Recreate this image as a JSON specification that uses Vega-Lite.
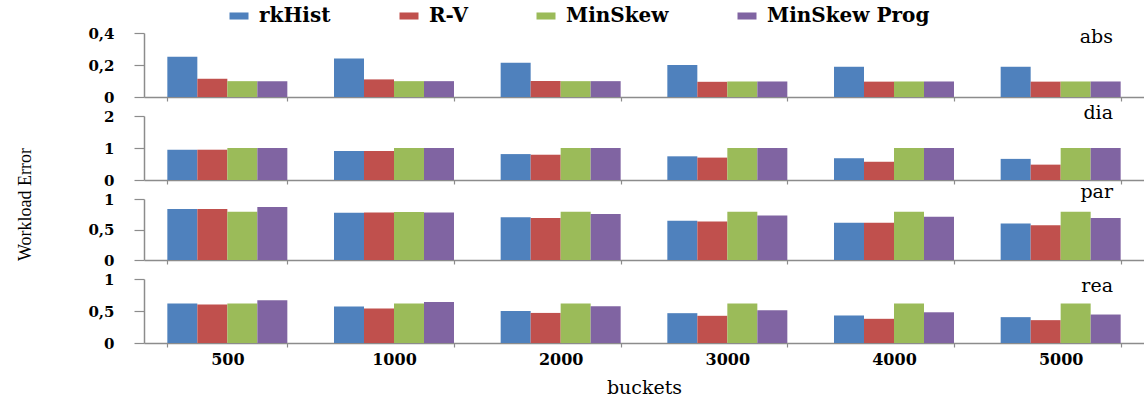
{
  "$schema": "https://vega.github.io/schema/vega-lite/v6.json",
  "padding": {"left": 16, "top": 6, "right": 0, "bottom": 0},
  "datasets": {
    "d": [
      {"metric": "abs", "buckets": "500", "method": "rkHist", "value": 0.251},
      {"metric": "abs", "buckets": "500", "method": "R-V", "value": 0.114},
      {"metric": "abs", "buckets": "500", "method": "MinSkew", "value": 0.099},
      {"metric": "abs", "buckets": "500", "method": "MinSkew Prog", "value": 0.099},
      {"metric": "abs", "buckets": "1000", "method": "rkHist", "value": 0.240},
      {"metric": "abs", "buckets": "1000", "method": "R-V", "value": 0.110},
      {"metric": "abs", "buckets": "1000", "method": "MinSkew", "value": 0.099},
      {"metric": "abs", "buckets": "1000", "method": "MinSkew Prog", "value": 0.099},
      {"metric": "abs", "buckets": "2000", "method": "rkHist", "value": 0.214},
      {"metric": "abs", "buckets": "2000", "method": "R-V", "value": 0.100},
      {"metric": "abs", "buckets": "2000", "method": "MinSkew", "value": 0.099},
      {"metric": "abs", "buckets": "2000", "method": "MinSkew Prog", "value": 0.099},
      {"metric": "abs", "buckets": "3000", "method": "rkHist", "value": 0.200},
      {"metric": "abs", "buckets": "3000", "method": "R-V", "value": 0.095},
      {"metric": "abs", "buckets": "3000", "method": "MinSkew", "value": 0.097},
      {"metric": "abs", "buckets": "3000", "method": "MinSkew Prog", "value": 0.097},
      {"metric": "abs", "buckets": "4000", "method": "rkHist", "value": 0.189},
      {"metric": "abs", "buckets": "4000", "method": "R-V", "value": 0.096},
      {"metric": "abs", "buckets": "4000", "method": "MinSkew", "value": 0.097},
      {"metric": "abs", "buckets": "4000", "method": "MinSkew Prog", "value": 0.097},
      {"metric": "abs", "buckets": "5000", "method": "rkHist", "value": 0.189},
      {"metric": "abs", "buckets": "5000", "method": "R-V", "value": 0.096},
      {"metric": "abs", "buckets": "5000", "method": "MinSkew", "value": 0.097},
      {"metric": "abs", "buckets": "5000", "method": "MinSkew Prog", "value": 0.097},
      {"metric": "dia", "buckets": "500", "method": "rkHist", "value": 0.947},
      {"metric": "dia", "buckets": "500", "method": "R-V", "value": 0.947},
      {"metric": "dia", "buckets": "500", "method": "MinSkew", "value": 1.0},
      {"metric": "dia", "buckets": "500", "method": "MinSkew Prog", "value": 1.0},
      {"metric": "dia", "buckets": "1000", "method": "rkHist", "value": 0.906},
      {"metric": "dia", "buckets": "1000", "method": "R-V", "value": 0.906},
      {"metric": "dia", "buckets": "1000", "method": "MinSkew", "value": 1.0},
      {"metric": "dia", "buckets": "1000", "method": "MinSkew Prog", "value": 1.0},
      {"metric": "dia", "buckets": "2000", "method": "rkHist", "value": 0.81},
      {"metric": "dia", "buckets": "2000", "method": "R-V", "value": 0.79},
      {"metric": "dia", "buckets": "2000", "method": "MinSkew", "value": 1.0},
      {"metric": "dia", "buckets": "2000", "method": "MinSkew Prog", "value": 1.0},
      {"metric": "dia", "buckets": "3000", "method": "rkHist", "value": 0.74},
      {"metric": "dia", "buckets": "3000", "method": "R-V", "value": 0.70},
      {"metric": "dia", "buckets": "3000", "method": "MinSkew", "value": 1.0},
      {"metric": "dia", "buckets": "3000", "method": "MinSkew Prog", "value": 1.0},
      {"metric": "dia", "buckets": "4000", "method": "rkHist", "value": 0.68},
      {"metric": "dia", "buckets": "4000", "method": "R-V", "value": 0.57},
      {"metric": "dia", "buckets": "4000", "method": "MinSkew", "value": 1.0},
      {"metric": "dia", "buckets": "4000", "method": "MinSkew Prog", "value": 1.0},
      {"metric": "dia", "buckets": "5000", "method": "rkHist", "value": 0.66},
      {"metric": "dia", "buckets": "5000", "method": "R-V", "value": 0.48},
      {"metric": "dia", "buckets": "5000", "method": "MinSkew", "value": 1.0},
      {"metric": "dia", "buckets": "5000", "method": "MinSkew Prog", "value": 1.0},
      {"metric": "par", "buckets": "500", "method": "rkHist", "value": 0.835},
      {"metric": "par", "buckets": "500", "method": "R-V", "value": 0.835},
      {"metric": "par", "buckets": "500", "method": "MinSkew", "value": 0.79},
      {"metric": "par", "buckets": "500", "method": "MinSkew Prog", "value": 0.868},
      {"metric": "par", "buckets": "1000", "method": "rkHist", "value": 0.775},
      {"metric": "par", "buckets": "1000", "method": "R-V", "value": 0.78},
      {"metric": "par", "buckets": "1000", "method": "MinSkew", "value": 0.786},
      {"metric": "par", "buckets": "1000", "method": "MinSkew Prog", "value": 0.78},
      {"metric": "par", "buckets": "2000", "method": "rkHist", "value": 0.70},
      {"metric": "par", "buckets": "2000", "method": "R-V", "value": 0.69},
      {"metric": "par", "buckets": "2000", "method": "MinSkew", "value": 0.79},
      {"metric": "par", "buckets": "2000", "method": "MinSkew Prog", "value": 0.753},
      {"metric": "par", "buckets": "3000", "method": "rkHist", "value": 0.643},
      {"metric": "par", "buckets": "3000", "method": "R-V", "value": 0.632},
      {"metric": "par", "buckets": "3000", "method": "MinSkew", "value": 0.79},
      {"metric": "par", "buckets": "3000", "method": "MinSkew Prog", "value": 0.73},
      {"metric": "par", "buckets": "4000", "method": "rkHist", "value": 0.61},
      {"metric": "par", "buckets": "4000", "method": "R-V", "value": 0.61},
      {"metric": "par", "buckets": "4000", "method": "MinSkew", "value": 0.79},
      {"metric": "par", "buckets": "4000", "method": "MinSkew Prog", "value": 0.71},
      {"metric": "par", "buckets": "5000", "method": "rkHist", "value": 0.60},
      {"metric": "par", "buckets": "5000", "method": "R-V", "value": 0.57},
      {"metric": "par", "buckets": "5000", "method": "MinSkew", "value": 0.79},
      {"metric": "par", "buckets": "5000", "method": "MinSkew Prog", "value": 0.69},
      {"metric": "rea", "buckets": "500", "method": "rkHist", "value": 0.616},
      {"metric": "rea", "buckets": "500", "method": "R-V", "value": 0.60},
      {"metric": "rea", "buckets": "500", "method": "MinSkew", "value": 0.616},
      {"metric": "rea", "buckets": "500", "method": "MinSkew Prog", "value": 0.668},
      {"metric": "rea", "buckets": "1000", "method": "rkHist", "value": 0.57},
      {"metric": "rea", "buckets": "1000", "method": "R-V", "value": 0.54},
      {"metric": "rea", "buckets": "1000", "method": "MinSkew", "value": 0.616},
      {"metric": "rea", "buckets": "1000", "method": "MinSkew Prog", "value": 0.64},
      {"metric": "rea", "buckets": "2000", "method": "rkHist", "value": 0.50},
      {"metric": "rea", "buckets": "2000", "method": "R-V", "value": 0.47},
      {"metric": "rea", "buckets": "2000", "method": "MinSkew", "value": 0.616},
      {"metric": "rea", "buckets": "2000", "method": "MinSkew Prog", "value": 0.575},
      {"metric": "rea", "buckets": "3000", "method": "rkHist", "value": 0.466},
      {"metric": "rea", "buckets": "3000", "method": "R-V", "value": 0.425},
      {"metric": "rea", "buckets": "3000", "method": "MinSkew", "value": 0.616},
      {"metric": "rea", "buckets": "3000", "method": "MinSkew Prog", "value": 0.513},
      {"metric": "rea", "buckets": "4000", "method": "rkHist", "value": 0.43},
      {"metric": "rea", "buckets": "4000", "method": "R-V", "value": 0.378},
      {"metric": "rea", "buckets": "4000", "method": "MinSkew", "value": 0.616},
      {"metric": "rea", "buckets": "4000", "method": "MinSkew Prog", "value": 0.48},
      {"metric": "rea", "buckets": "5000", "method": "rkHist", "value": 0.404},
      {"metric": "rea", "buckets": "5000", "method": "R-V", "value": 0.357},
      {"metric": "rea", "buckets": "5000", "method": "MinSkew", "value": 0.616},
      {"metric": "rea", "buckets": "5000", "method": "MinSkew Prog", "value": 0.445}
    ]
  },
  "spacing": 19,
  "bounds": "flush",
  "vconcat": [
    {
      "width": 1000, "height": 64,
      "data": {"name": "d"},
      "transform": [{"filter": "datum.metric === 'abs'"}],
      "title": {"text": "abs", "offset": 0, "dy": 21},
      "mark": "bar",
      "encoding": {
        "x": {"field": "buckets", "type": "ordinal", "sort": ["500", "1000", "2000", "3000", "4000", "5000"], "scale": {"paddingInner": 0.28, "paddingOuter": 0.14}, "axis": {"labels": false, "title": null}},
        "xOffset": {"field": "method", "type": "nominal", "sort": ["rkHist", "R-V", "MinSkew", "MinSkew Prog"]},
        "y": {"field": "value", "type": "quantitative", "scale": {"domain": [0, 0.4], "nice": false}, "axis": {"values": [0, 0.2, 0.4], "title": null}},
        "color": {"field": "method", "type": "nominal", "sort": ["rkHist", "R-V", "MinSkew", "MinSkew Prog"], "scale": {"domain": ["rkHist", "R-V", "MinSkew", "MinSkew Prog"], "range": ["#4F81BD", "#C0504D", "#9BBB59", "#8064A2"]}, "legend": {"title": null, "orient": "none", "legendX": 85, "legendY": -27, "direction": "horizontal", "symbolType": "M-1,-0.37H1V0.37H-1Z", "symbolSize": 361, "symbolStrokeWidth": 0, "labelFont": "DejaVu Serif", "labelFontSize": 20, "labelFontWeight": "bold", "labelColor": "#000", "labelLimit": 0, "columnPadding": 68, "labelOffset": 10}}
      }
    },
    {
      "width": 1000, "height": 64,
      "data": {"name": "d"},
      "transform": [{"filter": "datum.metric === 'dia'"}],
      "title": {"text": "dia", "offset": 0, "dy": 14},
      "mark": "bar",
      "encoding": {
        "x": {"field": "buckets", "type": "ordinal", "sort": ["500", "1000", "2000", "3000", "4000", "5000"], "scale": {"paddingInner": 0.28, "paddingOuter": 0.14}, "axis": {"labels": false, "title": null}},
        "xOffset": {"field": "method", "type": "nominal", "sort": ["rkHist", "R-V", "MinSkew", "MinSkew Prog"]},
        "y": {"field": "value", "type": "quantitative", "scale": {"domain": [0, 2], "nice": false}, "axis": {"values": [0, 1, 2], "title": "Workload Error", "titleX": -114, "titleY": 88, "titleAngle": -90, "titleBaseline": "alphabetic", "titleAlign": "center", "titleFont": "Liberation Serif", "titleFontSize": 18, "titleFontWeight": "normal", "titleColor": "#000"}},
        "color": {"field": "method", "type": "nominal", "sort": ["rkHist", "R-V", "MinSkew", "MinSkew Prog"]}
      }
    },
    {
      "width": 1000, "height": 61,
      "data": {"name": "d"},
      "transform": [{"filter": "datum.metric === 'par'"}],
      "title": {"text": "par", "offset": 0, "dy": 10},
      "mark": "bar",
      "encoding": {
        "x": {"field": "buckets", "type": "ordinal", "sort": ["500", "1000", "2000", "3000", "4000", "5000"], "scale": {"paddingInner": 0.28, "paddingOuter": 0.14}, "axis": {"labels": false, "title": null}},
        "xOffset": {"field": "method", "type": "nominal", "sort": ["rkHist", "R-V", "MinSkew", "MinSkew Prog"]},
        "y": {"field": "value", "type": "quantitative", "scale": {"domain": [0, 1], "nice": false}, "axis": {"values": [0, 0.5, 1], "title": null}},
        "color": {"field": "method", "type": "nominal", "sort": ["rkHist", "R-V", "MinSkew", "MinSkew Prog"]}
      }
    },
    {
      "width": 1000, "height": 64,
      "data": {"name": "d"},
      "transform": [{"filter": "datum.metric === 'rea'"}],
      "title": {"text": "rea", "offset": 0, "dy": 24},
      "mark": "bar",
      "encoding": {
        "x": {"field": "buckets", "type": "ordinal", "sort": ["500", "1000", "2000", "3000", "4000", "5000"], "scale": {"paddingInner": 0.28, "paddingOuter": 0.14}, "axis": {"labels": true, "labelAngle": 0, "labelPadding": 4, "labelFontSize": 16, "title": "buckets", "titleFont": "DejaVu Serif", "titleFontSize": 19, "titleFontWeight": "normal", "titlePadding": 11, "titleColor": "#000"}},
        "xOffset": {"field": "method", "type": "nominal", "sort": ["rkHist", "R-V", "MinSkew", "MinSkew Prog"]},
        "y": {"field": "value", "type": "quantitative", "scale": {"domain": [0, 1], "nice": false}, "axis": {"values": [0, 0.5, 1], "title": null}},
        "color": {"field": "method", "type": "nominal", "sort": ["rkHist", "R-V", "MinSkew", "MinSkew Prog"]}
      }
    }
  ],
  "resolve": {"scale": {"color": "shared", "x": "independent", "y": "independent"}},
  "config": {
    "view": {"stroke": null},
    "font": "DejaVu Serif",
    "title": {"anchor": "end", "frame": "group", "dx": -31, "font": "DejaVu Serif", "fontSize": 19, "fontWeight": "normal", "color": "#000", "baseline": "alphabetic"},
    "axis": {"grid": false, "domainColor": "#8c8c8c", "domainWidth": 1.5, "tickColor": "#8c8c8c", "tickWidth": 1.2, "labelFont": "DejaVu Serif", "labelFontSize": 15, "labelFontWeight": "bold", "labelColor": "#000"},
    "axisY": {"tickSize": 10, "labelPadding": 20, "labelExpr": "replace(format(datum.value, '.1~f'), '.', ',')"},
    "axisX": {"tickBand": "extent", "tickSize": 4}
  }
}
